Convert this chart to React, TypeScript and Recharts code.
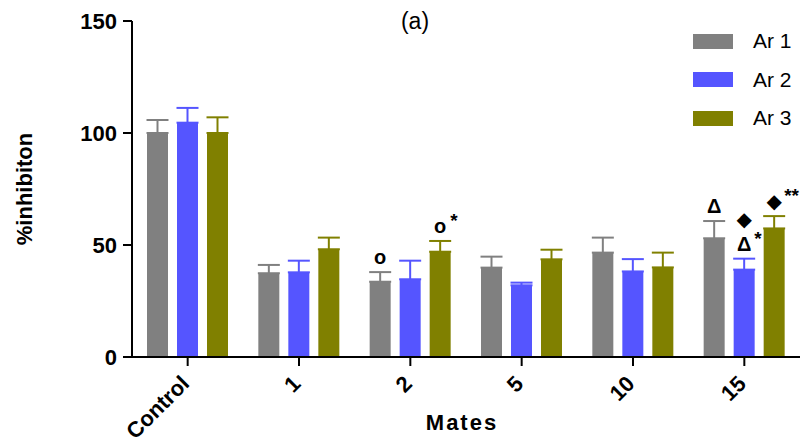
import React from 'react';
import { BarChart, Bar, XAxis, YAxis, ErrorBar, Legend, LabelList, Label } from 'recharts';

const categories = ['Control', '1', '2', '5', '10', '15'];
const ar1 = [100, 37.4, 33.6, 39.9, 46.6, 53.0];
const ar1Sem = [5.8, 3.7, 4.3, 4.9, 6.7, 7.7];
const ar2 = [104.6, 37.8, 34.7, 32.0, 38.2, 39.0];
const ar2Sem = [6.6, 5.2, 8.3, 1.2, 5.5, 4.9];
const ar3 = [100, 48.1, 47.0, 43.6, 40.0, 57.4];
const ar3Sem = [7.0, 5.2, 4.8, 4.3, 6.6, 5.5];
const yTicks = [0, 50, 100, 150];

// significance symbols, from the bar upwards; stars sit beside the first one
const ar1Marks = [[], [], ['o'], [], [], ['Δ']];
const ar1Stars = ['', '', '', '', '', ''];
const ar2Marks = [[], [], [], [], [], ['Δ', '◆']];
const ar2Stars = ['', '', '', '', '', '*'];
const ar3Marks = [[], [], ['o'], [], [], ['◆']];
const ar3Stars = ['', '', '*', '', '', '**'];

const FONT = '"Liberation Sans", Arial, "DejaVu Sans", sans-serif';

const data = categories.map((name, i) => ({
  name,
  ar1: ar1[i],
  ar1Err: [0, ar1Sem[i]],
  ar2: ar2[i],
  ar2Err: [0, ar2Sem[i]],
  ar3: ar3[i],
  ar3Err: [0, ar3Sem[i]],
}));

const series = [
  { key: 'ar1', name: 'Ar 1', color: '#808080', vals: ar1, sems: ar1Sem, marks: ar1Marks, stars: ar1Stars },
  { key: 'ar2', name: 'Ar 2', color: '#5555FF', vals: ar2, sems: ar2Sem, marks: ar2Marks, stars: ar2Stars },
  { key: 'ar3', name: 'Ar 3', color: '#808000', vals: ar3, sems: ar3Sem, marks: ar3Marks, stars: ar3Stars },
];

const makeMarks = (vals: number[], sems: number[], marks: string[][], stars: string[]) => (props: any) => {
  const vb = props.viewBox || props;
  const { x, y, width, height } = vb;
  const i = props.index;
  const syms = marks[i] || [];
  const star = stars[i];
  if (!syms.length && !star) return null;
  const k = height / vals[i];
  const cx = x + width / 2;
  const base = y - sems[i] * k - 8;
  return (
    <g fontFamily={FONT} fill="#000">
      {syms.map((s, j) => (
        <text key={j} x={cx} y={base - j * 25} textAnchor="middle" fontSize={20} fontWeight="bold">
          {s}
        </text>
      ))}
      {star ? (
        <text x={cx + 10} y={base - 6} textAnchor="start" fontSize={19} fontWeight="bold">
          {star}
        </text>
      ) : null}
    </g>
  );
};

const XTick = (props: any) => {
  const { x, y, payload } = props;
  return (
    <g transform={`translate(${x + 3},${y + 17})`}>
      <text x={0} y={0} textAnchor="end" transform="rotate(-45)" fontSize={22} fontWeight="bold" fontFamily={FONT} fill="#000">
        {payload.value}
      </text>
    </g>
  );
};

const LegendBox = () => (
  <div style={{ fontFamily: FONT }}>
    {series.map((s) => (
      <div key={s.key} style={{ display: 'flex', alignItems: 'center', height: 38.5 }}>
        <div style={{ width: 40, height: 15, background: s.color }} />
        <span style={{ marginLeft: 20, fontSize: 21, color: '#000' }}>{s.name}</span>
      </div>
    ))}
  </div>
);

export default function App() {
  return (
    <div style={{ position: 'absolute', left: 0, top: 0, width: 807, height: 444, background: '#fff' }}>
      <div
        style={{
          position: 'absolute',
          left: 365,
          top: 8,
          width: 100,
          textAlign: 'center',
          fontFamily: FONT,
          fontSize: 23,
          color: '#000',
        }}
      >
        (a)
      </div>
      <BarChart
        width={807}
        height={444}
        data={data}
        margin={{ top: 21, right: 7, bottom: 17, left: 52 }}
        barSize={21}
        barGap={9}
      >
        <XAxis
          dataKey="name"
          height={70}
          axisLine={{ stroke: '#000', strokeWidth: 2 }}
          tickLine={{ stroke: '#000', strokeWidth: 2 }}
          tickSize={9}
          tick={<XTick />}
          interval={0}
        >
          <Label
            content={(p: any) => {
              const vb = p.viewBox;
              return (
                <text
                  x={vb.x + vb.width / 2 - 4}
                  y={vb.y + 73}
                  textAnchor="middle"
                  fontSize={22}
                  fontWeight="bold"
                  letterSpacing={2}
                  fontFamily={FONT}
                  fill="#000"
                >
                  Mates
                </text>
              );
            }}
          />
        </XAxis>
        <YAxis
          width={80}
          domain={[0, 150]}
          ticks={yTicks}
          axisLine={{ stroke: '#000', strokeWidth: 2 }}
          tickLine={{ stroke: '#000', strokeWidth: 2 }}
          tickSize={9}
          tickMargin={6}
          tick={{ fontSize: 22, fontWeight: 'bold', fill: '#000', fontFamily: FONT }}
        >
          <Label
            content={(p: any) => {
              const vb = p.viewBox;
              const lx = vb.x - 20;
              const ly = vb.y + vb.height / 2;
              return (
                <text
                  x={lx}
                  y={ly}
                  transform={`rotate(-90 ${lx} ${ly})`}
                  textAnchor="middle"
                  fontSize={22}
                  fontWeight="bold"
                  fontFamily={FONT}
                  fill="#000"
                >
                  %inhibiton
                </text>
              );
            }}
          />
        </YAxis>
        <Legend
          content={<LegendBox />}
          layout="horizontal"
          verticalAlign="middle"
          align="center"
          wrapperStyle={{ left: 693, top: 22, width: 114 }}
        />
        {series.map((s) => (
          <Bar key={s.key} dataKey={s.key} name={s.name} fill={s.color} isAnimationActive={false}>
            <ErrorBar dataKey={`${s.key}Err`} width={11} strokeWidth={2} stroke={s.color} direction="y" />
            <LabelList dataKey={s.key} content={makeMarks(s.vals, s.sems, s.marks, s.stars)} />
          </Bar>
        ))}
      </BarChart>
    </div>
  );
}
